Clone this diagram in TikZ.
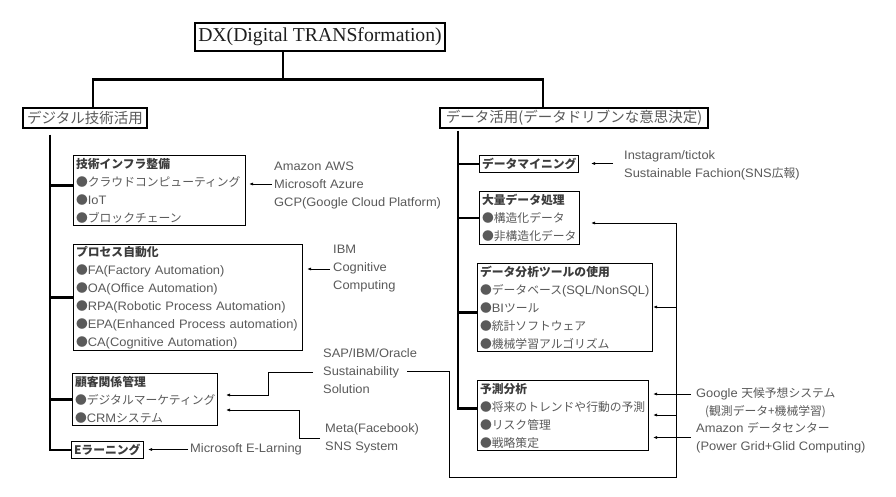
\documentclass[tikz,border=0pt]{standalone}
\usepackage{fontspec}
\setmainfont{Liberation Sans}[FakeStretch=1.05, Scale=1.04]
\newfontfamily\jp{Noto Sans CJK JP}
\newfontfamily\dxserif{Liberation Serif}
\usetikzlibrary{arrows.meta}
\definecolor{txt}{HTML}{5A5A5A}
\definecolor{ttl}{HTML}{3C3C3C}
\definecolor{dxc}{HTML}{1E1E1E}
\newcommand\jb[1]{{\jp #1}}
\newcommand\jt[1]{{\jp\bfseries\color{ttl}#1}}
\begin{document}
\begin{tikzpicture}[x=1pt,y=-1pt,
  box/.style={draw, line width=1.1pt, inner xsep=2.5pt, inner ysep=0pt, anchor=north west,
    align=left, text=txt, font=\fontsize{11.8}{18}\selectfont},
  bigbox/.style={draw, line width=1.1pt, inner sep=0pt, text=txt, font=\jp\fontsize{14.5}{16}\selectfont},
  ann/.style={anchor=west, align=left, inner sep=0pt, text=txt, font=\fontsize{11.8}{18}\selectfont},
  trunk/.style={line width=2.7pt},
  arr/.style={line width=0.8pt, -{Latex[length=4pt,width=3.2pt]}},
  thin/.style={line width=0.8pt}]
\useasboundingbox (0,0) rectangle (896,496);
\fill[white] (0,0) rectangle (896,496);

% top
\node[draw, line width=1.1pt, inner sep=0pt, minimum width=250pt, minimum height=28pt,
  text=dxc, font=\dxserif\fontsize{19.7}{22}\selectfont] (dx) at (320,37) {DX(Digital TRANSformation)};
\node[bigbox, minimum width=124pt, minimum height=20pt] (dig) at (85,118) {デジタル技術活用};
\node[bigbox, minimum width=268pt, minimum height=20pt] (dat) at (574,118) {データ活用(データドリブンな意思決定)};

% left boxes
\node[box, text width=167pt, minimum height=70pt] (infra) at (73,155)
  {\jt{技術インフラ整備}\\\jb{●クラウドコンピューティング}\\\jb{●}IoT\\\jb{●ブロックチェーン}};
\node[box, text width=224pt, minimum height=106pt] (proc) at (73,244)
  {\jt{プロセス自動化}\\\jb{●}FA(Factory Automation)\\\jb{●}OA(Office Automation)\\\jb{●}RPA(Robotic Process Automation)\\\jb{●}EPA(Enhanced Process automation)\\\jb{●}CA(Cognitive Automation)};
\node[box, text width=140pt, minimum height=52pt] (crm) at (72,373)
  {\jt{顧客関係管理}\\\jb{●デジタルマーケティング}\\\jb{●}CRM\jb{システム}};
\node[box, text width=67pt, minimum height=17pt] (elearn) at (71,441) {\jt{Eラーニング}};

% right boxes
\node[box, text width=94pt, minimum height=17pt] (dm) at (479,155) {\jt{データマイニング}};
\node[box, text width=95pt, minimum height=53pt] (big) at (479,191)
  {\jt{大量データ処理}\\\jb{●構造化データ}\\\jb{●非構造化データ}};
\node[box, text width=170pt, minimum height=88pt] (tool) at (477,263)
  {\jt{データ分析ツールの使用}\\\jb{●データベース}(SQL/NonSQL)\\\jb{●}BI\jb{ツール}\\\jb{●統計ソフトウェア}\\\jb{●機械学習アルゴリズム}};
\node[box, text width=166pt, minimum height=70pt] (pred) at (477,380)
  {\jt{予測分析}\\\jb{●将来のトレンドや行動の予測}\\\jb{●リスク管理}\\\jb{●戦略策定}};

% annotations
\node[ann] (aws) at (274,185) {Amazon AWS\\Microsoft Azure\\GCP(Google Cloud Platform)};
\node[ann] (ibm) at (333,269) {IBM\\Cognitive\\Computing};
\node[ann] (sap) at (323,371.5) {SAP/IBM/Oracle\\Sustainability\\Solution};
\node[ann] (meta) at (325,438) {Meta(Facebook)\\SNS System};
\node[ann] (mse) at (190,449.5) {Microsoft E-Larning};
\node[ann] (insta) at (624,165.5) {Instagram/tictok\\Sustainable Fachion(SNS\jb{広報})};
\node[ann] (google1) at (696,394) {Google \jb{天候予想システム}};
\node[ann] (google2) at (705,412) {\jb{(観測データ+機械学習)}};
\node[ann] (amazon) at (696,437.5) {Amazon \jb{データセンター}\\(Power Grid+Glid Computing)};

% tree connectors
\draw[trunk] ([xshift=-37pt]dx.south) -- ++(0,29);
\draw[trunk] ([xshift=8pt]dig.north) -- ++(0,-28) -| ([xshift=-31pt]dat.north);
\draw[trunk] ([xshift=-35pt,yshift=-6pt]dig.south) |- (elearn.west);
\draw[trunk] ([yshift=5pt]infra.west) -- ++(-23,0);
\draw[trunk] (proc.west) -- ++(-23,0);
\draw[trunk] (crm.west) -- ++(-22,0);
\draw[trunk] ([xshift=-116pt,yshift=-2pt]dat.south) |- ([yshift=7pt]pred.west);
\draw[trunk] (dm.west) -- ++(-21,0);
\draw[trunk] (big.west) -- ++(-21,0);
\draw[trunk] ([yshift=-5pt]tool.west) -- ++(-19,0);

% arrows left
\draw[arr] ([xshift=-2pt,yshift=1pt]aws.west) -- ([xshift=3pt,yshift=1pt]aws.west -| infra.east);
\draw[arr] ([xshift=-3pt]ibm.west) -- ([xshift=4pt]ibm.west -| proc.east);
\coordinate (t3a) at (226,395);
\coordinate (t3b) at (226,410);
\draw[arr] ([xshift=-10pt,yshift=-1pt]sap.west) -| (268,395) -- (t3a);
\draw[arr] ([xshift=-5pt]meta.west) -| (299,410) -- (t3b);
\draw[arr] ([xshift=-2pt]mse.west) -- ([xshift=4pt]mse.west -| elearn.east);

% long connector from Sustainability
\coordinate (susend) at (407,371.5);
\coordinate (vtop) at (676,223);
\coordinate (vb1) at (676,307);
\coordinate (vb2) at (676,415);
\draw[arr] (susend) -| (449,477) -| (vtop) -- ([xshift=11pt]vtop -| big.east);
\draw[arr] (vb1) -- (vb1 -| tool.east);
\draw[arr] (vb2) -- ([xshift=4pt]vb2 -| pred.east);

% arrows right
\draw[arr] ([xshift=-11pt,yshift=2pt]insta.west) -- ([xshift=12pt,yshift=2pt]insta.west -| dm.east);
\draw[arr] ([xshift=-5pt]google1.west) -- ([xshift=4pt]google1.west -| pred.east);
\draw[arr] ([xshift=-5pt]amazon.west) -- ([xshift=4pt]amazon.west -| pred.east);
\end{tikzpicture}
\end{document}
